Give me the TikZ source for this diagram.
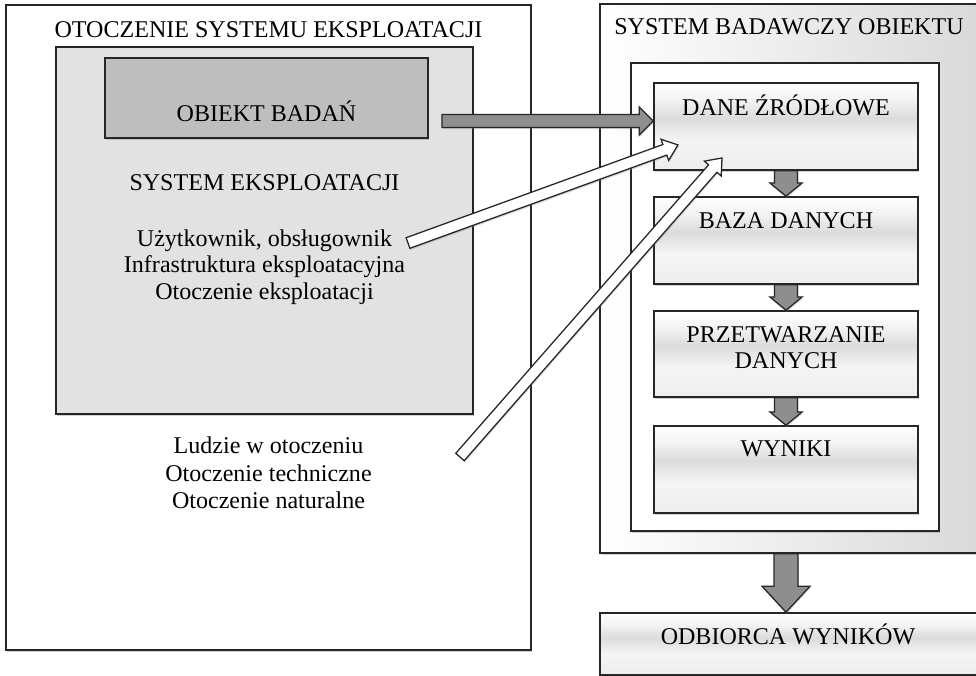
\documentclass[tikz,border=0pt]{standalone}
\usepackage{fontspec}
\setmainfont{Liberation Serif}
\usepackage{tikz}
\usetikzlibrary{calc,shadows}

% one pixel of the layout grid
\newdimen\pxu \pxu=0.025cm

\definecolor{boxline}{HTML}{262626}
\definecolor{envgray}{HTML}{E2E2E2}
\definecolor{objgray}{HTML}{BEBEBE}
\definecolor{arrowgray}{HTML}{8E8E8E}

% glossy fill of the stage boxes
\pgfdeclareverticalshading{glossbox}{100bp}{color(0bp)=(black!7); color(25bp)=(black!7);
  color(42bp)=(black!4); color(55bp)=(black!14); color(65bp)=(black!5);
  color(75bp)=(white); color(100bp)=(white)}

% block arrow: style, from, to, shaft half width, head half width, head length
\newcommand{\fatarrow}[6]{%
  \coordinate (fa-base) at ($(#3)!#6!(#2)$);
  \draw[#1] ($(#2)!#4!90:(#3)$) -- ($(fa-base)!#4!90:(#3)$) -- ($(fa-base)!#5!90:(#3)$)
    -- (#3) -- ($(fa-base)!#5!-90:(#3)$) -- ($(fa-base)!#4!-90:(#3)$)
    -- ($(#2)!#4!-90:(#3)$) -- cycle;
}

\tikzset{
  boxframe/.style={rectangle, draw=boxline, line width=1.1pt, inner sep=0pt,
    drop shadow={shadow xshift=0.6pt, shadow yshift=-1.6pt, opacity=0.35}},
  stagebox/.style={boxframe, shading=glossbox, minimum width=264\pxu, minimum height=87\pxu},
  txt/.style={anchor=base, align=center, inner sep=0pt},
  flow/.style={draw=boxline, line width=0.9pt, fill=arrowgray, line join=miter,
    drop shadow={shadow xshift=0.5pt, shadow yshift=-1.2pt, opacity=0.3}},
  hollow/.style={flow, fill=white},
}

\begin{document}
\begin{tikzpicture}[x=1\pxu, y=-1\pxu, font=\fontsize{17.1}{20}\selectfont]
  \useasboundingbox (0,0) rectangle (976,676);

  % environment of the operating system
  \node[boxframe, fill=white, minimum width=525\pxu, minimum height=645\pxu] (otoczenie) at (268.5,327.5) {};
  \node[boxframe, fill=envgray, minimum width=417\pxu, minimum height=367\pxu] (eksploatacja) at (264.5,230.5) {};
  \node[boxframe, fill=objgray, minimum width=323\pxu, minimum height=80\pxu] (obiekt) at (266.5,98) {};

  % (multi-line texts sit on the baseline of their last line)
  \node[txt] (t-otoczenie) at (268.5,38) {OTOCZENIE SYSTEMU EKSPLOATACJI};
  \node[txt] (t-obiekt) at (266.5,122) {OBIEKT BADAŃ};
  \node[txt] (t-eksploatacja) at (264.5,191) {SYSTEM EKSPLOATACJI};
  \node[txt, font=\fontsize{17.1}{19.2}\selectfont] (t-uzytkownik) at (264.5,300)
    {Użytkownik, obsługownik\\Infrastruktura eksploatacyjna\\Otoczenie eksploatacji};
  \node[txt, font=\fontsize{17.1}{19.9}\selectfont] (t-ludzie) at (268.5,509)
    {Ludzie w otoczeniu\\Otoczenie techniczne\\Otoczenie naturalne};

  % research system
  \node[boxframe, left color=white, right color=black!15, minimum width=385\pxu, minimum height=549\pxu] (badawczy) at (792.5,278.5) {};
  \node[boxframe, fill=white, minimum width=308\pxu, minimum height=468\pxu] (zbior) at (785,297) {};
  \node[stagebox] (dane) at (786,126.5) {};
  \node[stagebox] (baza) at (786,240.5) {};
  \node[stagebox, minimum height=86\pxu] (przetwarzanie) at (786,354) {};
  \node[stagebox] (wyniki) at (786,469.5) {};
  \node[boxframe, shading=glossbox, minimum width=385\pxu, minimum height=62\pxu] (odbiorca) at (792.5,644) {};

  \node[txt] (t-badawczy) at (789,35) {SYSTEM BADAWCZY OBIEKTU};
  \node[txt] (t-dane) at (786,116) {DANE ŹRÓDŁOWE};
  \node[txt] (t-baza) at (786,229) {BAZA DANYCH};
  \node[txt, font=\fontsize{17.1}{18.5}\selectfont] (t-przetwarzanie) at (786,369) {PRZETWARZANIE\\DANYCH};
  \node[txt] (t-wyniki) at (786,457) {WYNIKI};
  \node[txt] (t-odbiorca) at (788,644) {ODBIORCA WYNIKÓW};

  % flow between the stages
  \foreach \a/\b in {dane/baza, baza/przetwarzanie, przetwarzanie/wyniki}
    \fatarrow{flow}{\a.south}{\b.north}{0.29cm}{0.4cm}{0.33cm};
  \fatarrow{flow}{dane |- badawczy.south}{dane |- odbiorca.north}{0.3cm}{0.6cm}{0.65cm};

  % inputs to the source data
  \coordinate (obiekt-out) at (442,121);
  \coordinate (uzytkownik-out) at (408,243);
  \coordinate (ludzie-out) at (460,457);
  \coordinate (dane-in1) at (678,145);
  \coordinate (dane-in2) at (722,158);
  \fatarrow{flow}{obiekt-out}{obiekt-out -| dane.west}{0.16cm}{0.35cm}{0.35cm};
  \fatarrow{hollow}{uzytkownik-out}{dane-in1}{0.14cm}{0.28cm}{0.35cm};
  \fatarrow{hollow}{ludzie-out}{dane-in2}{0.14cm}{0.28cm}{0.35cm};
\end{tikzpicture}
\end{document}
